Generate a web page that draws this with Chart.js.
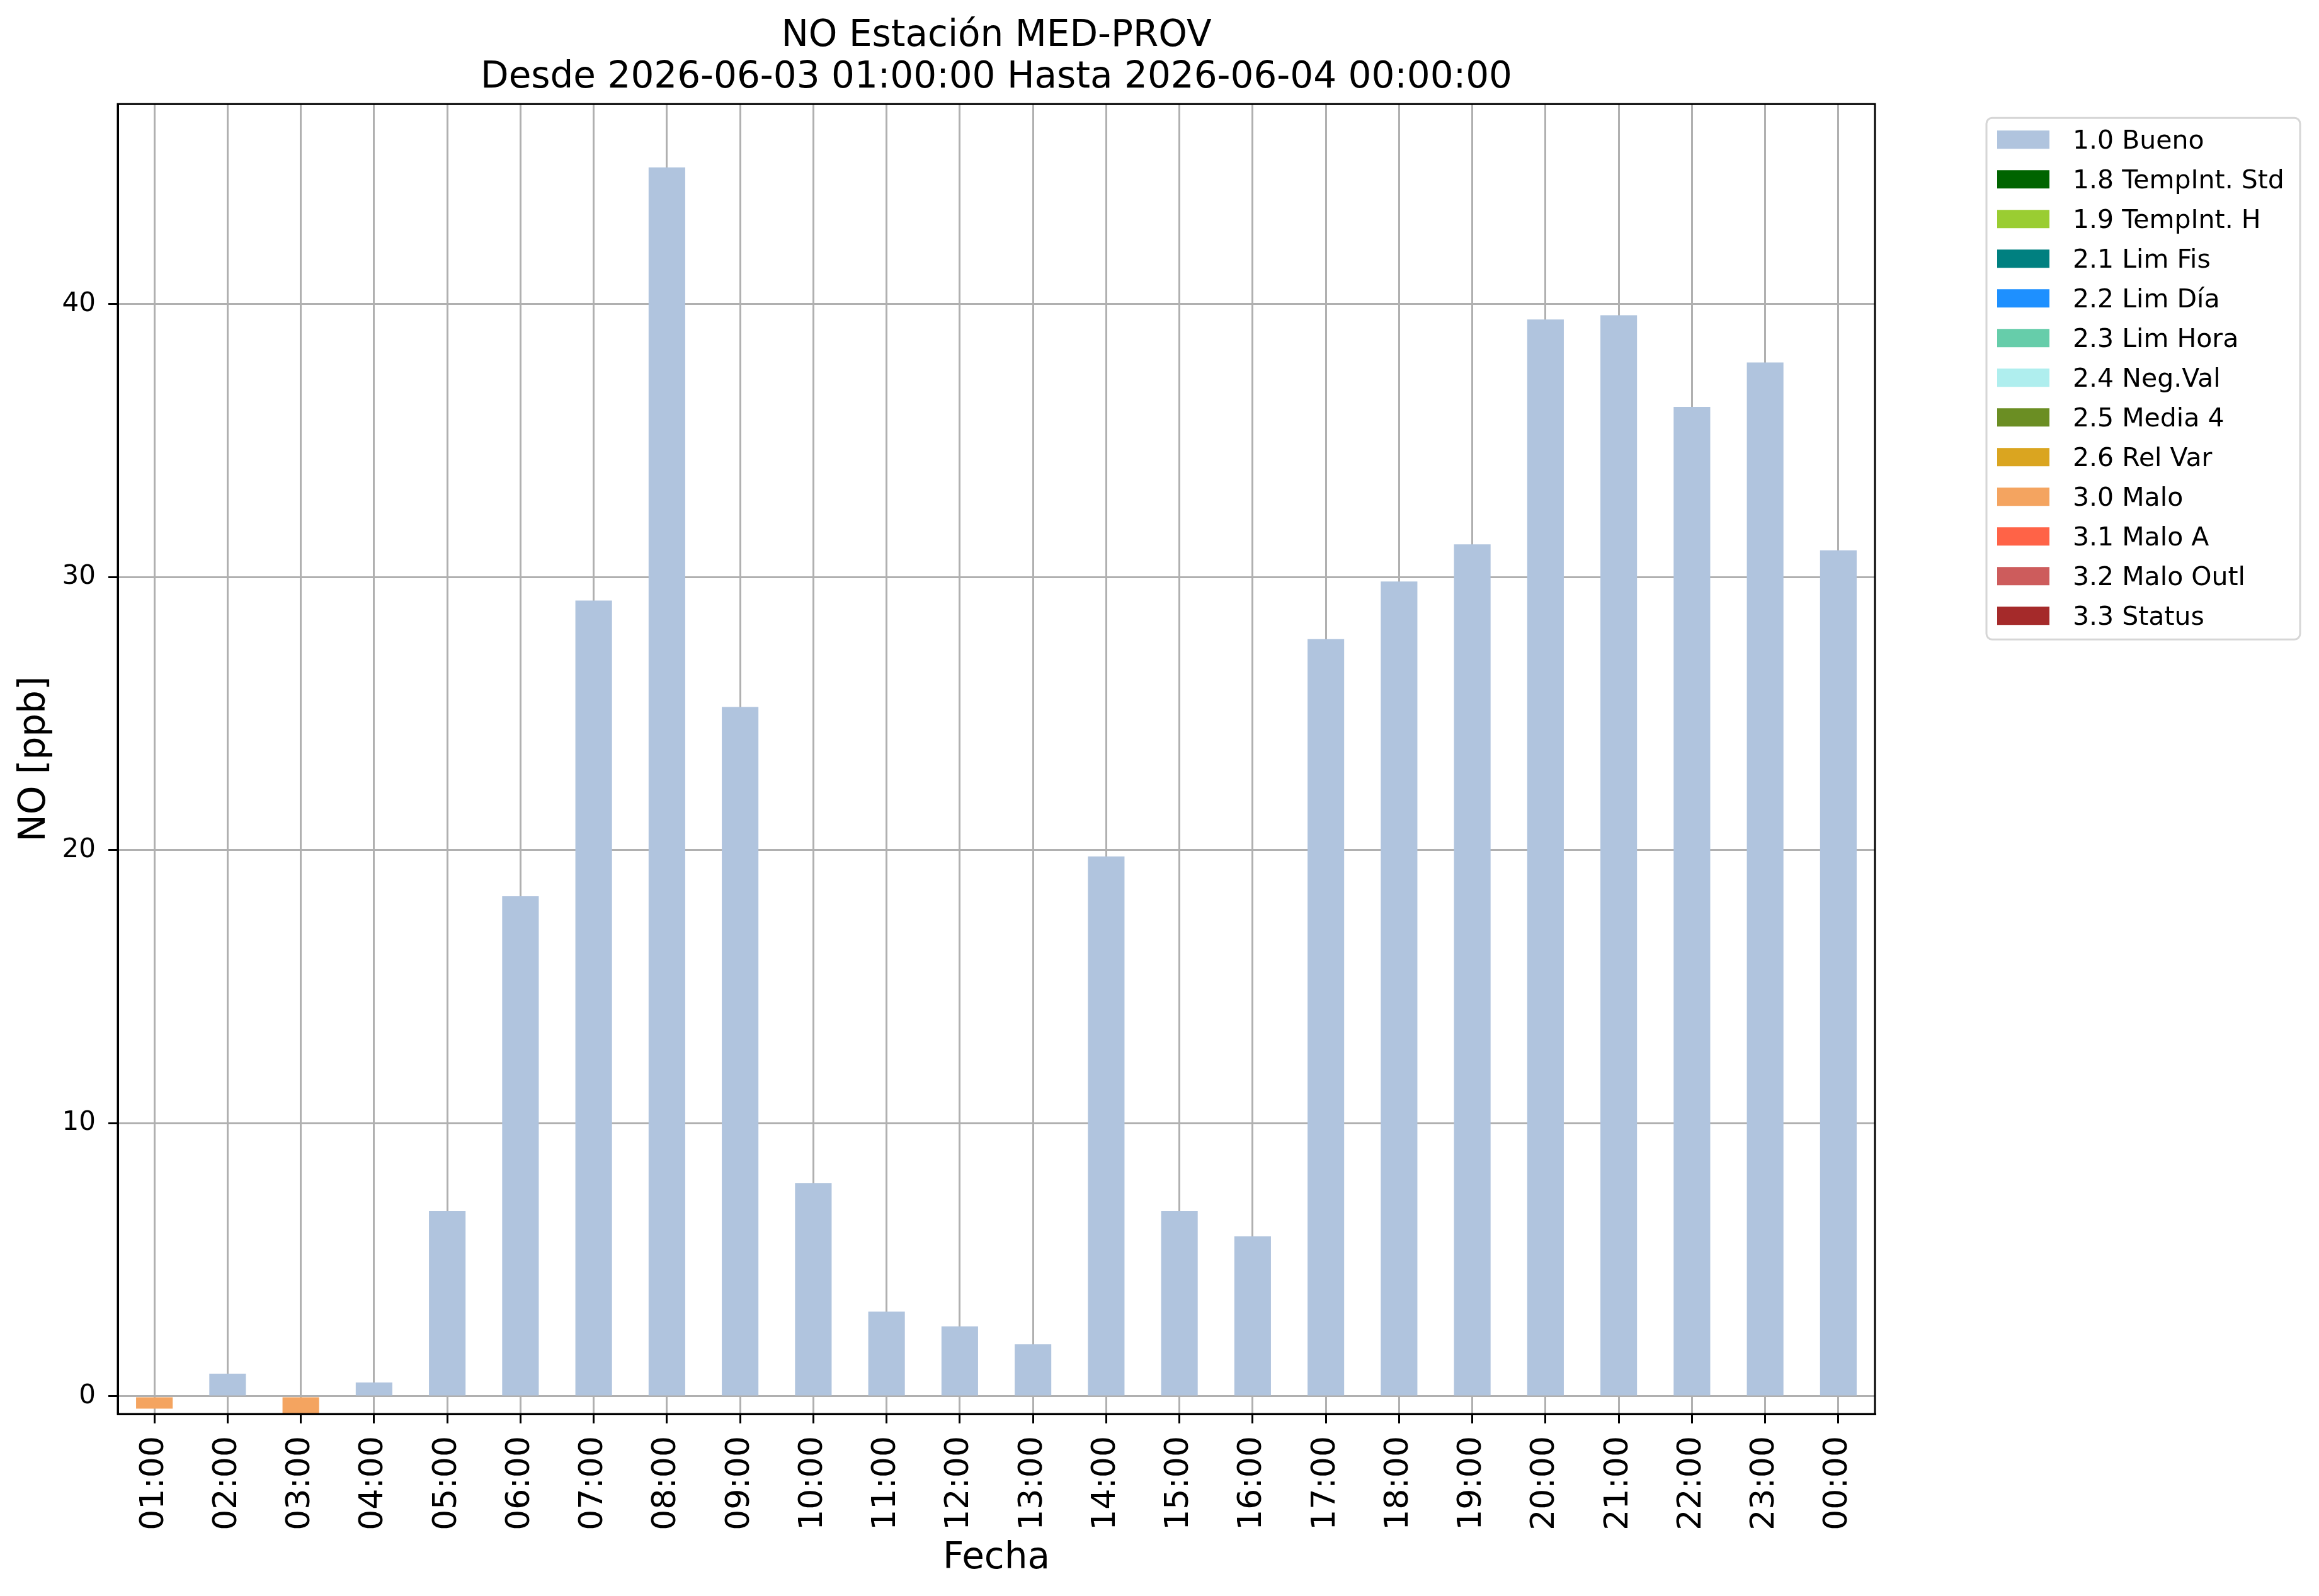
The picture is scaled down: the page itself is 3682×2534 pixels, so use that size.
<!DOCTYPE html>
<html>
<head>
<meta charset="utf-8">
<script src="https://cdn.jsdelivr.net/npm/chart.js@4.4.1/dist/chart.umd.min.js"></script>
<style>
  html, body { margin: 0; padding: 0; background: #fff; }
  #wrap { width: 3682px; height: 2534px; position: relative; }
</style>
</head>
<body>
<div id="wrap"><canvas id="chart"></canvas></div>
<script>
// hours on the x axis
const hours = ['01:00','02:00','03:00','04:00','05:00','06:00','07:00','08:00','09:00','10:00','11:00','12:00',
	'13:00','14:00','15:00','16:00','17:00','18:00','19:00','20:00','21:00','22:00','23:00','00:00'];

// NO [ppb] by quality flag (null = no value for that flag)
const bueno = [null, 0.83, null, 0.51, 6.78, 18.31, 29.14, 45.0, 25.24, 7.81, 3.10, 2.56,
	1.91, 19.77, 6.78, 5.86, 27.73, 29.84, 31.20, 39.43, 39.59, 36.23, 37.86, 30.98];
const malo = [-0.45, null, -0.9, null, null, null, null, null, null, null, null, null,
	null, null, null, null, null, null, null, null, null, null, null, null];

const flagLabels = ['1.0 Bueno','1.8 TempInt. Std','1.9 TempInt. H','2.1 Lim Fis','2.2 Lim Día','2.3 Lim Hora',
	'2.4 Neg.Val','2.5 Media 4','2.6 Rel Var','3.0 Malo','3.1 Malo A','3.2 Malo Outl','3.3 Status'];
const flagColors = ['#B0C4DE','#006400','#9ACD32','#008080','#1E90FF','#66CDAA',
	'#AFEEEE','#6B8E23','#DAA520','#F4A460','#FF6347','#CD5C5C','#A52A2A'];

const yTicks = [0, 10, 20, 30, 40];
const yMin = -0.646;
const yMax = 47.32;

const FONT = "'DejaVu Sans', sans-serif";

function seriesFor(label) {
	if (label == '1.0 Bueno') return bueno;
	if (label == '3.0 Malo') return malo;
	return [];
}

const datasets = flagLabels.map((label, i) => ({
	label: label,
	data: seriesFor(label),
	backgroundColor: flagColors[i],
	borderWidth: 0,
	barPercentage: 0.5,
	categoryPercentage: 1.0
}));

// matplotlib style frame + legend box to the right of the axes
const framePlugin = {
	id: 'frame',
	afterDraw(chart) {
		const ctx = chart.ctx;
		const a = chart.chartArea;
		ctx.save();
		ctx.strokeStyle = '#000';
		ctx.lineWidth = 3;
		ctx.strokeRect(a.left, a.top, a.right - a.left, a.bottom - a.top);

		// legend
		const bx = a.right + 177, by = a.top + 22, bw = 498, bh = 828;
		ctx.beginPath();
		ctx.roundRect(bx, by, bw, bh, 9);
		ctx.fillStyle = 'rgba(255,255,255,0.8)';
		ctx.fill();
		ctx.strokeStyle = '#d6d6d6';
		ctx.lineWidth = 3;
		ctx.stroke();

		ctx.font = '41px ' + FONT;
		ctx.textBaseline = 'alphabetic';
		ctx.textAlign = 'left';
		chart.data.datasets.forEach((ds, i) => {
			const y = by + 20 + i * 63;
			ctx.fillStyle = ds.backgroundColor;
			ctx.fillRect(bx + 17, y, 83, 29);
			ctx.fillStyle = '#000';
			ctx.fillText(ds.label, bx + 137, y + 29);
		});
		ctx.restore();
	}
};

new Chart(document.getElementById('chart'), {
	type: 'bar',
	data: {
		labels: hours,
		datasets: datasets
	},
	options: {
		responsive: true,
		maintainAspectRatio: false,
		devicePixelRatio: 1,
		animation: false,
		layout: { padding: { left: 0, right: 705, top: 0, bottom: 0 } },
		plugins: {
			legend: { display: false },
			tooltip: { enabled: false },
			title: {
				display: true,
				fullSize: false,
				text: ['NO Estación MED-PROV', 'Desde 2026-06-03 01:00:00 Hasta 2026-06-04 00:00:00'],
				color: '#000',
				font: { family: FONT, size: 58, weight: 'normal', lineHeight: 1.14 },
				padding: { top: 25, bottom: 8 }
			}
		},
		scales: {
			x: {
				stacked: true,
				z: 1,
				afterFit(scale) { scale.height = 289; },
				grid: { color: '#b0b0b0', lineWidth: 3, offset: false, tickLength: 15, tickColor: '#000', tickWidth: 3 },
				border: { color: '#000', width: 3 },
				ticks: {
					color: '#000',
					font: { family: FONT, size: 52 },
					minRotation: 90,
					maxRotation: 90,
					autoSkip: false,
					padding: 20
				},
				title: {
					display: true,
					text: 'Fecha',
					color: '#000',
					font: { family: FONT, size: 58 },
					padding: { top: 0, bottom: 24 }
				}
			},
			y: {
				stacked: true,
				z: 1,
				min: yMin,
				max: yMax,
				afterFit(scale) { scale.width = 187; },
				afterBuildTicks(scale) { scale.ticks = yTicks.map(v => ({ value: v })); },
				grid: { color: '#b0b0b0', lineWidth: 3, tickLength: 15, tickColor: '#000', tickWidth: 3 },
				border: { color: '#000', width: 3 },
				ticks: {
					color: '#000',
					font: { family: FONT, size: 42 },
					padding: 20
				},
				title: {
					display: true,
					text: 'NO [ppb]',
					color: '#000',
					font: { family: FONT, size: 58 },
					padding: { top: 21, bottom: 0 }
				}
			}
		}
	},
	plugins: [framePlugin]
});
</script>
</body>
</html>
